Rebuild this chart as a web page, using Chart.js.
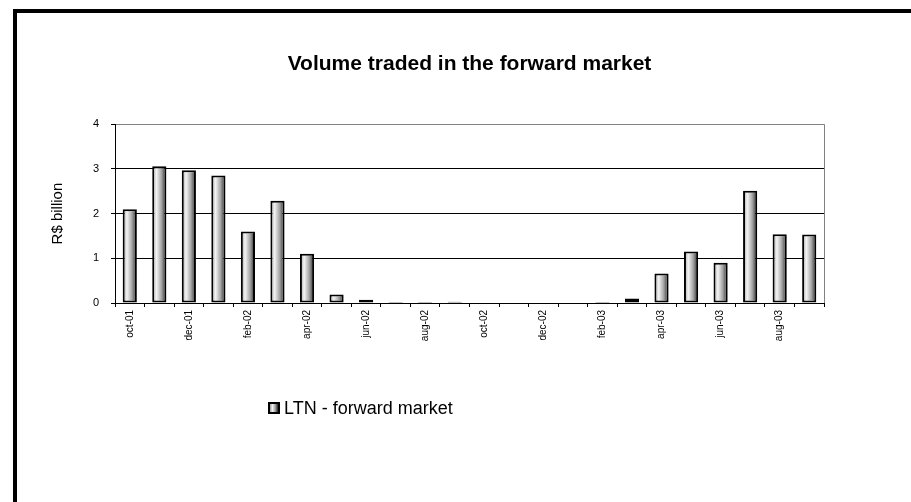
<!DOCTYPE html>
<html>
<head>
<meta charset="utf-8">
<script src="https://cdn.jsdelivr.net/npm/chart.js@4.4.0/dist/chart.umd.min.js"></script>
<style>
    html, body { margin: 0; padding: 0; background: #fff; overflow: hidden; }
    #wrap { position: relative; width: 911px; height: 502px; }
    #frame {
        position: absolute; left: 13px; top: 9px;
        width: 920px; height: 520px;
        border: 4px solid #000; box-sizing: border-box;
        pointer-events: none;
    }
    canvas { position: absolute; left: 0; top: 0; }
</style>
</head>
<body>
<div id="wrap">
    <canvas id="chart" width="911" height="502"></canvas>
    <div id="frame"></div>
</div>
<script>
    // Months on the x axis (oct-01 .. sep-03)
    const months = [
        'oct-01', 'nov-01', 'dec-01', 'jan-02', 'feb-02', 'mar-02', 'apr-02', 'may-02',
        'jun-02', 'jul-02', 'aug-02', 'sep-02', 'oct-02', 'nov-02', 'dec-02', 'jan-03',
        'feb-03', 'mar-03', 'apr-03', 'may-03', 'jun-03', 'jul-03', 'aug-03', 'sep-03'
    ];

    // LTN - forward market, R$ billion
    const ltnForward = [
        2.10, 3.06, 2.97, 2.85, 1.60, 2.29, 1.10, 0.19,
        0.07, 0.02, 0.02, 0.03, 0, 0, 0, 0,
        0.02, 0.10, 0.66, 1.15, 0.90, 2.51, 1.54, 1.53
    ];

    const yTicks = [0, 1, 2, 3, 4];

    const fontFamily = "'Liberation Sans', Arial, sans-serif";

    function shade(ctx, x0, x1) {
        const g = ctx.createLinearGradient(x0, 0, x1, 0);
        g.addColorStop(0, '#9a9a9a');
        g.addColorStop(0.3, '#f4f4f4');
        g.addColorStop(0.65, '#a5a5a5');
        g.addColorStop(1, '#262626');
        return g;
    }

    // cylinder-ish shading across each bar
    function barGradient(context) {
        const chart = context.chart;
        const xScale = chart.scales.x;
        if (!xScale || context.type !== 'data') return '#bbb';
        const cx = xScale.getPixelForValue(context.dataIndex);
        const w = xScale.width / months.length * 0.48;
        if (!isFinite(cx) || !isFinite(w) || w <= 0) return '#bbb';
        return shade(chart.ctx, cx - w / 2, cx + w / 2);
    }

    // gray right edge of the plot box
    const plotFrame = {
        id: 'plotFrame',
        beforeDatasetsDraw(chart) {
            const { ctx, chartArea } = chart;
            ctx.save();
            ctx.strokeStyle = '#808080';
            ctx.lineWidth = 1;
            ctx.beginPath();
            ctx.moveTo(Math.round(chartArea.right) + 0.5, chartArea.top);
            ctx.lineTo(Math.round(chartArea.right) + 0.5, chartArea.bottom);
            ctx.stroke();
            ctx.restore();
        }
    };

    // legend sits below, left of centre
    const sideLegend = {
        id: 'sideLegend',
        afterDraw(chart) {
            const ctx = chart.ctx;
            const label = chart.data.datasets[0].label;
            const bx = 268, by = 402, bs = 12;
            ctx.save();
            ctx.fillStyle = '#000';
            ctx.fillRect(bx, by, bs, bs);
            ctx.fillStyle = shade(ctx, bx + 2, bx + bs - 2);
            ctx.fillRect(bx + 2, by + 2, bs - 4, bs - 4);
            ctx.fillStyle = '#000';
            ctx.font = '18px ' + fontFamily;
            ctx.textBaseline = 'middle';
            ctx.textAlign = 'left';
            ctx.fillText(label, bx + bs + 4, by + bs / 2 + 1);
            ctx.restore();
        }
    };

    new Chart(document.getElementById('chart'), {
        type: 'bar',
        data: {
            labels: months,
            datasets: [{
                label: 'LTN - forward market',
                data: ltnForward,
                backgroundColor: barGradient,
                borderColor: '#000',
                borderWidth: 2,
                borderSkipped: false,
                barPercentage: 0.48,
                categoryPercentage: 1
            }]
        },
        options: {
            responsive: false,
            animation: false,
            layout: { padding: { left: 40, right: 87, top: 0, bottom: 139 } },
            plugins: {
                legend: { display: false },
                tooltip: { enabled: false },
                title: {
                    display: true,
                    fullSize: false,
                    text: 'Volume traded in the forward market',
                    color: '#000',
                    font: { family: fontFamily, size: 21, weight: 'bold' },
                    padding: { top: 52, bottom: 47 }
                }
            },
            scales: {
                x: {
                    afterFit(scale) { scale.height = 60; },
                    grid: {
                        display: true,
                        drawOnChartArea: false,
                        drawTicks: true,
                        tickLength: 4,
                        color: '#000',
                        offset: true
                    },
                    border: { color: '#000', width: 1 },
                    ticks: {
                        autoSkip: false,
                        maxRotation: 90,
                        minRotation: 90,
                        padding: 3,
                        color: '#000',
                        font: { family: fontFamily, size: 10 },
                        callback: (v, i) => (i % 2 === 0 ? months[i] : '')
                    }
                },
                y: {
                    min: yTicks[0],
                    max: yTicks[yTicks.length - 1],
                    afterFit(scale) { scale.width = 75; },
                    afterBuildTicks(scale) { scale.ticks = yTicks.map(v => ({ value: v })); },
                    grid: {
                        color: ctx => (ctx.tick && ctx.tick.value === 4 ? '#808080' : '#000'),
                        tickColor: '#000',
                        tickLength: 4,
                        lineWidth: 1
                    },
                    border: { color: '#000', width: 1 },
                    ticks: {
                        padding: 12,
                        color: '#000',
                        font: { family: fontFamily, size: 11 }
                    },
                    title: {
                        display: true,
                        text: 'R$ billion',
                        color: '#000',
                        font: { family: fontFamily, size: 15 },
                        padding: { top: 9, bottom: 0 }
                    }
                }
            }
        },
        plugins: [plotFrame, sideLegend]
    });
</script>
</body>
</html>
